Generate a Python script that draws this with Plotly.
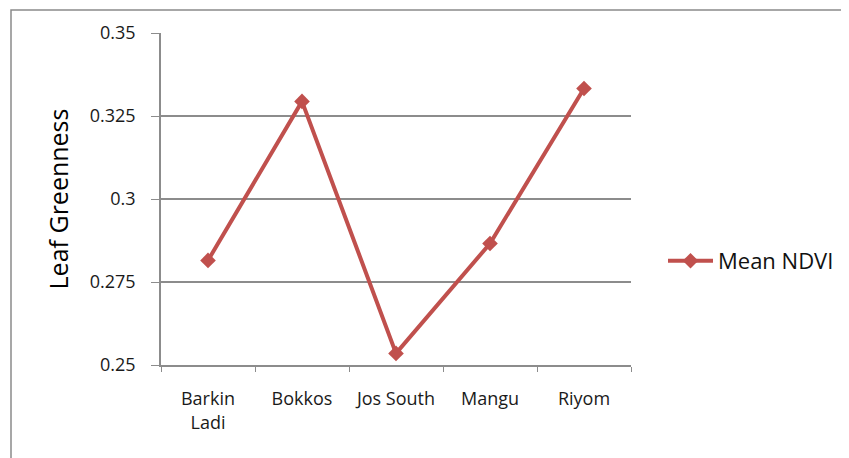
import plotly.graph_objects as go

categories = ["Barkin<br>Ladi", "Bokkos", "Jos South", "Mangu", "Riyom"]
mean_ndvi = [0.2815, 0.3294, 0.2535, 0.2866, 0.3333]
y_ticks = [0.25, 0.275, 0.3, 0.325, 0.35]
y_tick_labels = ["0.25", "0.275", "0.3", "0.325", "0.35"]

RED = "#C0504D"
GRID = "#8C8C8C"
FONT = "Open Sans, Lato, sans-serif"

# page body has an 8px margin, so the figure is 841x450 and sits at (8, 8)
L, T, R, B = 153, 25, 218, 93
PW, PH = 841 - L - R, 450 - T - B

fig = go.Figure()
fig.add_trace(go.Scatter(
    x=categories, y=mean_ndvi, mode="lines+markers", name="Mean NDVI",
    line=dict(color=RED, width=4),
    marker=dict(symbol="diamond", size=12, color=RED),
))

fig.update_layout(
    width=841, height=450,
    margin=dict(l=L, r=R, t=T, b=B, autoexpand=False),
    paper_bgcolor="white", plot_bgcolor="white",
    font=dict(family=FONT, color="#222222", size=12),
    showlegend=True,
    legend=dict(x=(655 - L) / PW, y=(T + PH - 253) / PH, xanchor="left", yanchor="middle",
                font=dict(size=22, color="#111111", family=FONT),
                bgcolor="rgba(0,0,0,0)", itemwidth=45),
    xaxis=dict(
        type="category", range=[-0.5, 4.5],
        tickson="boundaries", ticks="outside", ticklen=5, tickcolor=GRID,
        showline=True, linecolor=GRID, linewidth=1.5,
        showgrid=False, tickfont=dict(size=18, color="#1a1a1a"),
        ticklabelstandoff=17,
    ),
    yaxis=dict(
        range=[0.25, 0.35], tickvals=y_ticks, ticktext=y_tick_labels,
        ticks="outside", ticklen=8, tickcolor=GRID,
        showline=True, linecolor=GRID, linewidth=1.5,
        showgrid=True, gridcolor=GRID, gridwidth=1.5,
        zeroline=False, tickfont=dict(size=18, color="#1a1a1a"),
        ticklabelstandoff=12,
        title=dict(text="Leaf Greenness", font=dict(size=25, color="#000000", family=FONT), standoff=14),
    ),
)

# outer chart frame
fig.add_shape(type="rect", xref="paper", yref="paper",
              x0=(3 - L) / PW, x1=(841 - L) / PW + 0.05,
              y0=-B / PH - 0.05, y1=1 + (T - 2) / PH,
              line=dict(color="#8A8A8A", width=1.5), layer="below")

fig.write_html("out.html")
